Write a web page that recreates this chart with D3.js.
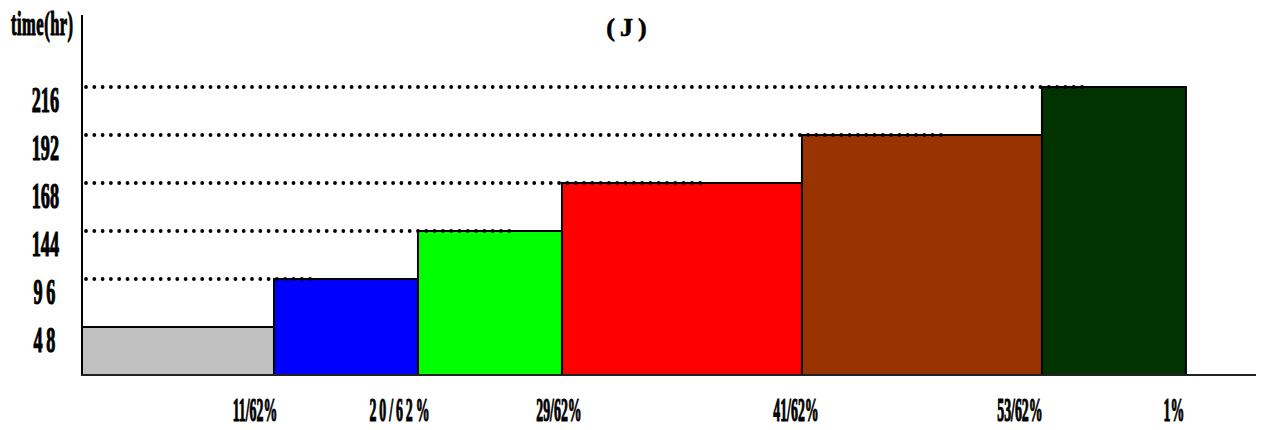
<!DOCTYPE html>
<html><head><meta charset="utf-8">
<script src="https://cdn.jsdelivr.net/npm/d3@7"></script>
<style>
html,body{margin:0;padding:0;background:#fff;}
svg text{font-family:"Liberation Serif","DejaVu Serif",serif;font-weight:bold;fill:#000;stroke:#000;stroke-width:1.2px;}
</style></head>
<body>
<svg id="chart" width="1261" height="430"></svg>
<script>
// ---- data ----
const categories = ["11/62%", "20/62%", "29/62%", "41/62%", "53/62%", "1%"];
const timeValues = [48, 96, 144, 168, 192, 216];          // hours (bar heights)
const yTickLabels = ["48", "96", "144", "168", "192", "216"];
const barEdges = [0, 4, 7, 10, 15, 20, 23];               // cumulative edges (x units)
const guideEnds = [null, 4.85, 8.98, 12.94, 17.94, 20.875]; // dotted guide ends (x units)
const barColors = ["#c0c0c0", "#0000ff", "#00ff00", "#ff0000", "#993300", "#003300"];
const labelShift = [-19, -17, -3, -6, -22, -12];

const svg = d3.select("#chart");
const x = d3.scaleLinear().domain([0, 24.46]).range([82, 1256]);
const rank = d3.scaleOrdinal().domain(yTickLabels.map(Number)).range([1,2,3,4,5,6]);
const y = d3.scaleLinear().domain([0, 7.5]).range([375, 15]);

const bars = categories.map((c, i) => ({c, v: timeValues[i], x0: barEdges[i], x1: barEdges[i+1], color: barColors[i], guide: guideEnds[i]}));

// bars
svg.append("g").selectAll("rect").data(bars).join("rect")
  .attr("x", d => x(d.x0)).attr("y", d => y(rank(d.v)))
  .attr("width", d => x(d.x1) - x(d.x0))
  .attr("height", d => y(0) - y(rank(d.v)))
  .attr("fill", d => d.color)
  .attr("stroke", "#000").attr("stroke-width", 2);

// dotted guides
svg.append("g").selectAll("line").data(bars.filter(d => d.guide != null))
  .join("line")
  .attr("x1", x(0) + 4).attr("x2", d => x(d.guide))
  .attr("y1", d => y(rank(d.v))).attr("y2", d => y(rank(d.v)))
  .attr("stroke", "#000").attr("stroke-width", 3.8)
  .attr("stroke-linecap", "round").attr("stroke-dasharray", "0 8.3");

// axes lines
svg.append("line").attr("x1", x(0)).attr("x2", x(0)).attr("y1", 15).attr("y2", y(0))
  .attr("stroke", "#000").attr("stroke-width", 2);
svg.append("line").attr("x1", x(0) - 1).attr("x2", x(24.46)).attr("y1", y(0)).attr("y2", y(0))
  .attr("stroke", "#222").attr("stroke-width", 2);

// y tick labels (condensed)
svg.append("g").selectAll("text").data(yTickLabels).join("text")
  .attr("transform", d => `translate(59,${y(rank(+d)) + 25}) scale(0.52,1)`)
  .attr("text-anchor", "end")
  .style("font-size", "35px")
  .style("letter-spacing", d => d.length === 2 ? "7px" : "0px")
  .text(d => d);

// x category labels
svg.append("g").selectAll("text").data(bars).join("text")
  .attr("transform", (d, i) => `translate(${x(d.x1) + labelShift[i]},421) scale(0.42,1)`)
  .attr("text-anchor", "middle")
  .style("font-size", "33px")
  .style("letter-spacing", (d, i) => i === 1 ? "7px" : "0px")
  .text(d => d.c);

// y axis title
svg.append("text")
  .attr("transform", "translate(11,35) scale(0.5,1)")
  .style("font-size", "33px")
  .style("letter-spacing", "1px")
  .text("time(hr)");

// chart title
svg.append("text")
  .attr("x", 629).attr("y", 36).attr("text-anchor", "middle")
  .style("font-size", "26px").style("letter-spacing", "5px")
  .style("stroke-width", "0.6px")
  .text("(J)");
</script>
</body></html>
